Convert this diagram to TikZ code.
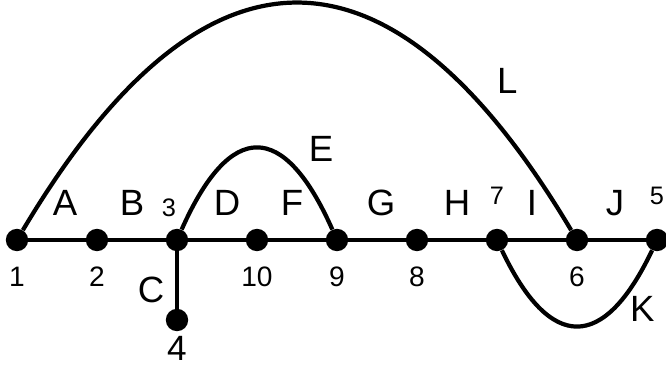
\documentclass[tikz,border=0pt]{standalone}
\usepackage{fontspec}
\setmainfont{Liberation Sans}
\usetikzlibrary{positioning}

\begin{document}
\begin{tikzpicture}[
node distance=2cm,
on grid,
vertex/.style={circle, fill=black, inner sep=0pt, minimum size=0.56cm},
edge/.style={line width=3pt},
num/.style={font=\fontsize{20}{22}\selectfont, inner sep=0pt},
small/.style={font=\fontsize{18}{20}\selectfont, inner sep=0pt},
lbl/.style={font=\fontsize{26}{28}\selectfont, inner sep=0pt}
]

\useasboundingbox (-0.425,-3.15) rectangle (16.225,6.0);

% vertices
\node[vertex] (n1) at (0,0) {};
\node[vertex] (n2) [right=of n1] {};
\node[vertex] (n3) [right=of n2] {};
\node[vertex] (n10) [right=of n3] {};
\node[vertex] (n9) [right=of n10] {};
\node[vertex] (n8) [right=of n9] {};
\node[vertex] (n7) [right=of n8] {};
\node[vertex] (n6) [right=of n7] {};
\node[vertex] (n5) [right=of n6] {};
\node[vertex] (n4) [below=of n3] {};

% vertex numbers
\node[num] (t1) [below=0.925cm of n1] {1};
\node[num] (t2) [below=0.925cm of n2] {2};
\node[num] (t10) [below=0.925cm of n10] {10};
\node[num] (t9) [below=0.925cm of n9] {9};
\node[num] (t8) [below=0.925cm of n8] {8};
\node[num] (t6) [below=0.925cm of n6] {6};
\node[small] (t3) [above left=0.8cm and 0.2cm of n3] {3};
\node[small] (t7) [above=1.1cm of n7] {7};
\node[small] (t5) [above=1.1cm of n5] {5};
\node[font=\fontsize{25}{27}\selectfont, inner sep=0pt] (t4) [below=0.72cm of n4] {4};

% straight edges
\draw[edge] (n1) -- node[lbl, xshift=0.2cm, yshift=0.925cm] (A) {A} (n2);
\draw[edge] (n2) -- node[lbl, xshift=-0.125cm, yshift=0.925cm] (B) {B} (n3);
\draw[edge] (n3) -- node[lbl, xshift=-0.65cm, yshift=-0.25cm] (C) {C} (n4);
\draw[edge] (n3) -- node[lbl, xshift=0.25cm, yshift=0.925cm] (D) {D} (n10);
\draw[edge] (n10) -- node[lbl, xshift=-0.125cm, yshift=0.925cm] (F) {F} (n9);
\draw[edge] (n9) -- node[lbl, xshift=0.1cm, yshift=0.925cm] (G) {G} (n8);
\draw[edge] (n8) -- node[lbl, yshift=0.925cm] (H) {H} (n7);
\draw[edge] (n7) -- node[lbl, xshift=-0.125cm, yshift=0.925cm] (I) {I} (n6);
\draw[edge] (n6) -- node[lbl, xshift=-0.05cm, yshift=0.925cm] (J) {J} (n5);

% curved edges
\draw[edge] (n3) .. controls +(1.333,3) and +(-1.333,3) .. node[lbl, pos=0.75, xshift=0.65cm, yshift=0.48cm] (E) {E} (n9);
\draw[edge] (n1) .. controls +(4.667,7.833) and +(-4.667,7.833) .. node[lbl, pos=0.85, xshift=0.45cm, yshift=0.82cm] (L) {L} (n6);
\draw[edge] (n7) .. controls +(1.333,-2.8) and +(-1.333,-2.8) .. node[lbl, pos=0.9, xshift=0.125cm, yshift=-0.79cm] (K) {K} (n5);

\end{tikzpicture}
\end{document}
